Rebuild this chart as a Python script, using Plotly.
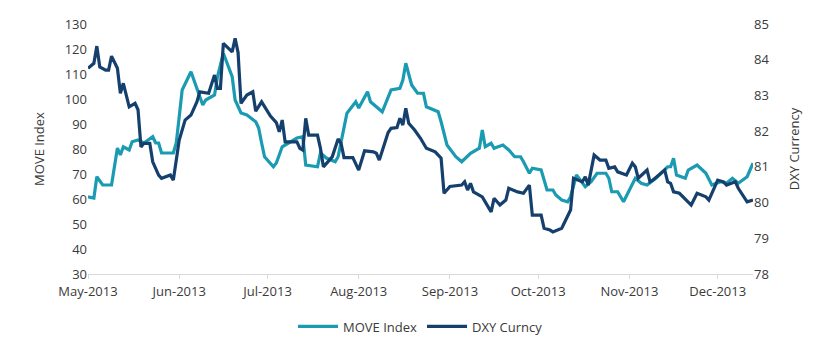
import plotly.graph_objects as go

move_dates = ["2013-05-01","2013-05-03","2013-05-04","2013-05-06","2013-05-09","2013-05-11","2013-05-12","2013-05-13",
"2013-05-15","2013-05-16","2013-05-18","2013-05-20","2013-05-23","2013-05-24","2013-05-25","2013-05-26","2013-05-30","2013-05-31",
"2013-06-01","2013-06-02","2013-06-05","2013-06-07","2013-06-09","2013-06-10","2013-06-13","2013-06-14","2013-06-16","2013-06-19",
"2013-06-20","2013-06-22","2013-06-24","2013-06-27","2013-06-28","2013-06-29","2013-06-30",
"2013-07-03","2013-07-04","2013-07-06","2013-07-11","2013-07-13","2013-07-14","2013-07-18","2013-07-19","2013-07-21","2013-07-24",
"2013-07-25","2013-07-28","2013-07-31",
"2013-08-01","2013-08-04","2013-08-05","2013-08-09","2013-08-10","2013-08-12","2013-08-15","2013-08-16","2013-08-17","2013-08-19",
"2013-08-21","2013-08-23","2013-08-24","2013-08-28","2013-08-29","2013-08-31",
"2013-09-03","2013-09-05","2013-09-08","2013-09-11","2013-09-12","2013-09-13","2013-09-15","2013-09-16","2013-09-19","2013-09-21",
"2013-09-23","2013-09-25","2013-09-26","2013-09-28","2013-09-29",
"2013-10-02","2013-10-04","2013-10-06","2013-10-07","2013-10-09","2013-10-11","2013-10-12","2013-10-14","2013-10-17","2013-10-19",
"2013-10-21","2013-10-24","2013-10-25","2013-10-26","2013-10-28","2013-10-30",
"2013-11-03","2013-11-05","2013-11-07","2013-11-10","2013-11-14","2013-11-15","2013-11-16","2013-11-17","2013-11-20","2013-11-21",
"2013-11-24","2013-11-27","2013-11-29",
"2013-12-02","2013-12-04","2013-12-06","2013-12-08","2013-12-11","2013-12-13"]
move_values = [60.9,60.4,68.9,65.6,65.6,80.4,77.6,80.9,
79.6,82.9,83.6,82.4,84.9,82.4,82.4,78.4,78.4,82.4,
92.9,103.6,110.9,104.0,97.6,99.6,101.6,108.9,118.3,108.9,
99.6,94.4,93.6,90.9,88.4,82.4,76.9,
72.9,74.4,80.9,84.4,84.9,73.6,72.9,78.4,76.4,74.9,
76.9,94.3,98.9,
96.4,102.9,98.9,94.9,97.6,103.6,104.3,107.6,114.3,105.6,
102.3,102.3,96.9,94.9,90.9,81.6,
76.9,74.9,78.3,80.3,87.6,80.9,82.3,80.3,81.6,79.6,
76.9,76.9,74.9,70.3,72.3,
71.6,63.6,63.6,61.6,59.6,58.9,60.9,69.6,64.9,66.9,
70.3,70.3,68.3,62.9,62.9,58.9,
68.3,66.3,65.6,68.3,72.9,72.9,76.3,69.6,68.3,71.6,
73.6,70.3,65.6,
66.9,66.3,68.3,66.3,68.9,74.3]

dxy_dates = ["2013-05-01","2013-05-03","2013-05-04","2013-05-05","2013-05-07","2013-05-08","2013-05-09","2013-05-11","2013-05-12",
"2013-05-13","2013-05-15","2013-05-17","2013-05-18","2013-05-19","2013-05-20","2013-05-22","2013-05-23","2013-05-25","2013-05-26",
"2013-05-29","2013-05-30",
"2013-06-01","2013-06-03","2013-06-05","2013-06-07","2013-06-08","2013-06-11","2013-06-13","2013-06-14","2013-06-15","2013-06-16",
"2013-06-19","2013-06-20","2013-06-21","2013-06-22","2013-06-24","2013-06-26","2013-06-27","2013-06-29",
"2013-07-02","2013-07-04","2013-07-05","2013-07-06","2013-07-07","2013-07-09","2013-07-11","2013-07-12","2013-07-13","2013-07-14",
"2013-07-15","2013-07-18","2013-07-19","2013-07-20","2013-07-22","2013-07-23","2013-07-25","2013-07-26","2013-07-27","2013-07-30",
"2013-08-01","2013-08-03","2013-08-06","2013-08-07","2013-08-08","2013-08-11","2013-08-12","2013-08-14","2013-08-15","2013-08-16",
"2013-08-17","2013-08-18","2013-08-20","2013-08-22","2013-08-24","2013-08-27","2013-08-29","2013-08-30",
"2013-09-01","2013-09-05","2013-09-06","2013-09-07","2013-09-08","2013-09-09","2013-09-12","2013-09-15","2013-09-16","2013-09-18",
"2013-09-20","2013-09-21","2013-09-24","2013-09-26","2013-09-28","2013-09-29",
"2013-10-02","2013-10-03","2013-10-05","2013-10-06","2013-10-09","2013-10-12","2013-10-13","2013-10-16","2013-10-17","2013-10-18",
"2013-10-20","2013-10-22","2013-10-24","2013-10-25","2013-10-27","2013-10-28","2013-10-31",
"2013-11-02","2013-11-03","2013-11-04","2013-11-07","2013-11-08","2013-11-09","2013-11-11","2013-11-13","2013-11-14","2013-11-15",
"2013-11-16","2013-11-18","2013-11-22","2013-11-24","2013-11-27","2013-11-28",
"2013-12-01","2013-12-03","2013-12-04","2013-12-07","2013-12-08","2013-12-11","2013-12-13"]
dxy_values = [83.76,83.9,84.38,83.8,83.71,83.71,84.1,83.76,83.06,
83.34,82.68,82.78,82.6,81.56,81.66,81.66,81.14,80.77,80.68,
80.77,80.63,
81.75,82.31,82.45,82.82,83.1,83.06,83.57,83.2,83.2,84.46,
84.22,84.6,84.2,82.78,83.01,83.1,82.56,82.82,
82.42,82.24,81.98,82.31,81.7,81.7,81.7,81.52,81.47,82.36,
81.89,81.89,81.52,81.0,81.19,81.28,81.78,81.66,81.26,81.26,
80.91,81.45,81.42,81.38,81.19,81.96,82.08,82.1,82.36,82.17,
82.64,82.22,82.03,81.8,81.52,81.42,81.24,80.26,
80.45,80.49,80.58,80.35,80.54,80.3,80.16,79.74,80.12,79.93,
80.07,80.4,80.3,80.26,80.49,79.65,
79.65,79.28,79.23,79.18,79.28,79.79,80.68,80.58,80.72,80.49,
81.33,81.19,81.19,80.96,81.0,80.86,80.77,
81.1,81.0,80.68,80.91,80.58,80.63,80.77,80.91,80.58,80.54,
80.3,80.26,79.93,80.26,80.16,80.07,
80.63,80.58,80.49,80.58,80.4,80.02,80.07]

TEAL = "#1a9bb1"
NAVY = "#15406d"
TXT = "#3a3a3a"

fig = go.Figure()
fig.add_trace(go.Scatter(x=move_dates, y=move_values, name="MOVE Index", mode="lines",
                         line=dict(color=TEAL, width=3.2), yaxis="y"))
fig.add_trace(go.Scatter(x=dxy_dates, y=dxy_values, name="DXY Curncy", mode="lines",
                         line=dict(color=NAVY, width=3.2), yaxis="y2"))

font = dict(family="Open Sans, Liberation Sans, sans-serif", size=13, color=TXT)

fig.update_layout(
    width=836, height=355,
    margin=dict(l=88, r=83, t=24, b=81),
    paper_bgcolor="white", plot_bgcolor="white",
    font=font,
    showlegend=True,
    legend=dict(orientation="h", x=0.5, xanchor="center", y=-0.21, yanchor="middle",
                font=dict(size=13, color=TXT), itemwidth=40, tracegroupgap=0),
    xaxis=dict(type="date", range=["2013-05-01", "2013-12-13"], tick0="2013-05-01", dtick="M1",
               tickformat="%b-%Y", showgrid=False, zeroline=False,
               showline=True, linecolor="#d9d9d9", linewidth=1,
               ticks="outside", ticklen=4, tickcolor="#d9d9d9", tickfont=font,
               ticklabelstandoff=1),
    yaxis=dict(range=[30, 130], dtick=10, showgrid=False, zeroline=False, showline=False,
               title=dict(text="MOVE Index", font=font, standoff=17), tickfont=font),
    yaxis2=dict(range=[78, 85], dtick=1, overlaying="y", side="right", showgrid=False,
                zeroline=False, showline=False,
                title=dict(text="DXY Currency", font=font, standoff=21), tickfont=font),
)

fig.write_html("out.html", config={"displayModeBar": False},
               post_script="document.body.style.margin='0';")
